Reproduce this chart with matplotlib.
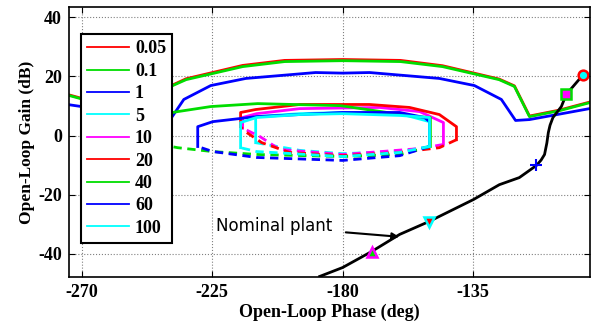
import numpy as np
import matplotlib.pyplot as plt
from matplotlib.lines import Line2D

# frequency labels of the bounds (legend order) and their colours
freqs = ["0.05", "0.1", "1", "5", "10", "20", "40", "60", "100"]
colors = ["#ff0000", "#00dd00", "#0000ff", "#00ffff", "#ff00ff",
          "#ff0000", "#00dd00", "#0000ff", "#00ffff"]

# open bounds (phase deg, gain dB)
b005_ph = [-275, -266, -254.8, -244.5, -239.3, -234, -214.5, -200, -180, -160, -145.5, -126, -120.7, -115.5, -105.2, -94, -85]
b005_db = [13.9, 11.5, 8.6, 6.6, 16.8, 19.2, 23.7, 25.4, 25.7, 25.4, 23.6, 19.1, 16.8, 6.6, 8.6, 11.5, 13.9]
b01_ph = [-275, -266, -254.8, -244.5, -239.3, -234, -214.5, -200, -180, -160, -145.5, -126, -120.7, -115.5, -105.2, -94, -85]
b01_db = [13.7, 11.3, 8.4, 6.4, 16.6, 18.9, 23.3, 25.0, 25.3, 25.0, 23.3, 18.9, 16.6, 6.4, 8.4, 11.3, 13.7]
b1_ph = [-275, -265.2, -244.5, -239.7, -234.8, -225.5, -213.4, -189.3, -180, -170.7, -146.6, -134.5, -125.2, -120.3, -115.5, -94.8, -85]
b1_db = [10.5, 9.1, 5.4, 5.1, 12.2, 16.9, 19.3, 21.3, 21.1, 21.3, 19.3, 16.9, 12.2, 5.1, 5.4, 9.1, 10.5]

# closed bounds: upper (solid) and lower (dashed) parts
b5_up_ph = [-210, -210, -194.8, -180, -160.3, -150, -150]
b5_up_db = [-2.4, 6.4, 7.4, 7.8, 7.4, 4.7, -3.7]
b5_lo_ph = [-150, -160.3, -180, -194.8, -210]
b5_lo_db = [-3.7, -5.4, -6.1, -5.0, -2.4]

b10_up_ph = [-214.5, -214.5, -209.7, -194.8, -167.2, -153.4, -145.2, -145.2]
b10_up_db = [2.5, 6.1, 7.4, 9.1, 9.5, 8.1, 4.4, -3.0]
b10_lo_ph = [-145.2, -153.4, -180, -201.7, -208.6, -214.5]
b10_lo_db = [-3.0, -4.4, -6.4, -4.7, -0.3, 2.5]

b20_up_ph = [-215.2, -215.2, -210, -194.8, -170.7, -156.9, -146.6, -140.7, -140.7]
b20_up_db = [3.0, 7.8, 8.8, 10.5, 10.5, 9.5, 7.1, 3.0, -1.4]
b20_lo_ph = [-140.7, -146.6, -160.3, -180, -198.3, -207.9, -213.8, -215.2]
b20_lo_db = [-1.4, -4.1, -5.7, -6.8, -5.7, -2.4, 1.5, 3.0]

b40_up_ph = [-243, -243, -236.9, -225.5, -209.3, -180.7, -154.8, -149.7, -149.7]
b40_up_db = [-3.0, 7.0, 8.1, 9.8, 10.8, 10.1, 6.4, 6.1, -3.7]
b40_lo_ph = [-149.7, -160.3, -180, -209.3, -225, -236.9, -243]
b40_lo_db = [-3.7, -6.4, -7.1, -6.4, -5.4, -4.1, -3.0]

b60_up_ph = [-230, -230, -224.8, -209.7, -180, -160.3, -151.7, -150, -150]
b60_up_db = [-3.7, 3.0, 4.7, 6.4, 7.8, 7.8, 6.1, 4.7, -3.7]
b60_lo_ph = [-150, -160.3, -180, -209.7, -224.8, -230]
b60_lo_db = [-3.7, -6.8, -8.4, -7.4, -5.4, -3.7]

b100_up_ph = [-215.2, -215.2, -209.7, -194.8, -180, -160.3, -150, -150]
b100_up_db = [-4.1, 4.4, 6.1, 7.1, 7.4, 6.8, 6.1, -3.7]
b100_lo_ph = [-150, -160.3, -180, -209.7, -215.2]
b100_lo_db = [-3.7, -5.7, -7.1, -5.4, -4.1]

# nominal plant
plant_ph = [-187.9, -180, -170, -160.3, -150.3, -134.8, -125.9, -119.0, -113.1, -111.5, -110.3, -109.5, -109.0,
            -108.4, -107.4, -104.5, -102.8, -97.2]
plant_db = [-47.6, -44.6, -39.2, -33.4, -29.1, -21.6, -16.6, -14.2, -10.1, -8.3, -6.4, -2.5, 1.0,
            3.5, 6.1, 9.8, 13.9, 20.3]

xticks = [-270, -225, -180, -135]
yticks = [-40, -20, 0, 20, 40]

serif = "Liberation Serif"

fig = plt.figure(figsize=(5.93, 3.24), dpi=100)
ax = fig.add_axes([0.116, 0.145, 0.879, 0.833])

lw = 2.0
ax.plot(b005_ph, b005_db, color=colors[0], lw=lw)
ax.plot(b01_ph, b01_db, color=colors[1], lw=lw)
ax.plot(b1_ph, b1_db, color=colors[2], lw=lw)

closed = [(b5_up_ph, b5_up_db, b5_lo_ph, b5_lo_db),
          (b10_up_ph, b10_up_db, b10_lo_ph, b10_lo_db),
          (b20_up_ph, b20_up_db, b20_lo_ph, b20_lo_db),
          (b40_up_ph, b40_up_db, b40_lo_ph, b40_lo_db),
          (b60_up_ph, b60_up_db, b60_lo_ph, b60_lo_db),
          (b100_up_ph, b100_up_db, b100_lo_ph, b100_lo_db)]
for (up_x, up_y, lo_x, lo_y), c in zip(closed, colors[3:]):
    ax.plot(up_x, up_y, color=c, lw=lw)
    ax.plot(lo_x, lo_y, color=c, lw=lw, ls=(0, (3, 2)))

ax.plot(plant_ph, plant_db, color="black", lw=2)

# frequency markers on the nominal plant
ax.plot(plant_ph[-1], plant_db[-1], "o", ms=7, mfc="#00ffff", mec="#ff0000", mew=1.8)
ax.plot(plant_ph[-2], plant_db[-2], "s", ms=7, mfc="#ff00ff", mec="#00dd00", mew=1.8)
ax.plot(plant_ph[8], plant_db[8], "+", ms=8, mec="#0000ff", mew=1.5)
ax.plot(plant_ph[4], plant_db[4], "v", ms=7, mfc="#ff0000", mec="#00ffff", mew=1.8)
ax.plot(plant_ph[2], plant_db[2], "^", ms=7, mfc="#00dd00", mec="#ff00ff", mew=1.8)

ax.annotate("Nominal plant", xy=(-160.5, -34.2), xytext=(-223.8, -30.7),
            fontsize=12, family="DejaVu Sans", ha="left", va="center",
            arrowprops=dict(arrowstyle="-|>", color="black", lw=1.5,
                            mutation_scale=10, shrinkA=8, shrinkB=0))

ax.set_xlim(-274.5, -94.6)
ax.set_ylim(-47.8, 43.4)
ax.set_xticks(xticks)
ax.set_yticks(yticks)
ax.set_xticklabels([str(t) for t in xticks], fontsize=13, fontweight="bold", family=serif)
ax.set_yticklabels([str(t) for t in yticks], fontsize=13, fontweight="bold", family=serif)
ax.tick_params(direction="in", length=4, top=True, right=True, pad=5)
ax.grid(True, ls=":", color="gray", lw=0.8)
for s in ax.spines.values():
    s.set_linewidth(1.2)

ax.set_xlabel("Open-Loop Phase (deg)", fontsize=13, fontweight="bold", family=serif, labelpad=2)
ax.set_ylabel("Open-Loop Gain (dB)", fontsize=12.5, fontweight="bold", family=serif, labelpad=2)

handles = [Line2D([], [], color=c, lw=1.3) for c in colors]
leg = ax.legend(handles, freqs, loc="upper left", bbox_to_anchor=(0.023, 0.9),
                borderaxespad=0, fancybox=False, framealpha=1, edgecolor="black",
                prop=dict(family=serif, weight="bold", size=13),
                handlelength=2.3, handletextpad=0.35, labelspacing=0.3,
                borderpad=0.35)
leg.get_frame().set_linewidth(1.5)

fig.savefig("out.png", dpi=100)
